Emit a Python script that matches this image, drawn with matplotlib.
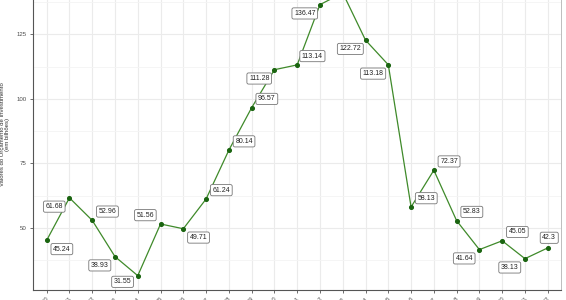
import numpy as np
import matplotlib
matplotlib.use("Agg")
import matplotlib.pyplot as plt
from matplotlib.ticker import MultipleLocator

plt.rcParams['font.family'] = ['Liberation Sans', 'DejaVu Sans']

# data
anos = [str(a) for a in range(2000, 2023)]
valores = [45.24, 61.68, 52.96, 38.93, 31.55, 51.56, 49.71, 61.24, 80.14, 96.57,
           111.28, 113.14, 136.47, 141.0, 122.72, 113.18, 58.13, 72.37, 52.83,
           41.64, 45.05, 38.13, 42.3]

# label side for each point (like ggrepel placed them): +1 right/up, -1 left/down
lado_x = [1, -1, 1, -1, -1, -1, 1, 1, 1, 1, -1, 1, -1, 1, -1, -1, 1, 1, 1, -1, 1, -1, 0.1]
lado_y = [-1, -1, 1, -1, -0.7, 1, -1, 1, 1, 1, -1, 1, -1, 1, -1, -1, 1, 1, 1, -1, 1, -1, 1.15]

fig = plt.figure(figsize=(5.66, 3.0), dpi=100)
# panel is cropped at top like the original image
ax = fig.add_axes([33.0 / 566, 10.2 / 300, 528.4 / 566, 311.0 / 300])

x = np.arange(len(anos))
ax.plot(x, valores, color='#3f8a2a', lw=0.9, zorder=3)
ax.scatter(x, valores, color='#1a6410', s=7, zorder=4)

for i, v in enumerate(valores):
    ax.annotate(f"{v:g}", xy=(x[i], v), xytext=(15.2 * lado_x[i], 8.8 * lado_y[i]),
                textcoords='offset pixels', ha='center', va='center',
                fontsize=5.0, color='#222222', zorder=5,
                bbox=dict(boxstyle='round,pad=0.3,rounding_size=0.25', fc='white',
                          ec='#777777', lw=0.6))

ax.set_xlim(-0.6, len(anos) - 0.4)
ax.set_ylim(26.08, 146.47)
ax.set_xticks(x)
ax.set_xticklabels(anos, rotation=45, ha='right', rotation_mode='anchor')
ax.yaxis.set_major_locator(MultipleLocator(25))
ax.yaxis.set_minor_locator(MultipleLocator(12.5))

ax.grid(which='major', color='#ebebeb', lw=0.8)
ax.grid(which='minor', axis='y', color='#f4f4f4', lw=0.6)
ax.set_axisbelow(True)
ax.tick_params(axis='both', which='major', labelsize=4.4, colors='#555555',
               labelcolor='#4d4d4d', length=2.5, width=0.6, pad=2)
ax.tick_params(axis='y', which='minor', length=0)

for s in ['left', 'bottom']:
    ax.spines[s].set_color('#555555')
    ax.spines[s].set_linewidth(0.8)
ax.spines['right'].set_color('#b3b3b3')
ax.spines['right'].set_linewidth(0.6)
ax.spines['top'].set_visible(False)

ax.set_ylabel("Valores do Orçamento de Investimento\n(em bilhões)", fontsize=4.3,
              color='#333333', linespacing=1.0)
ax.yaxis.set_label_coords(-0.043, 0.5)

fig.savefig("out.png", dpi=100)
